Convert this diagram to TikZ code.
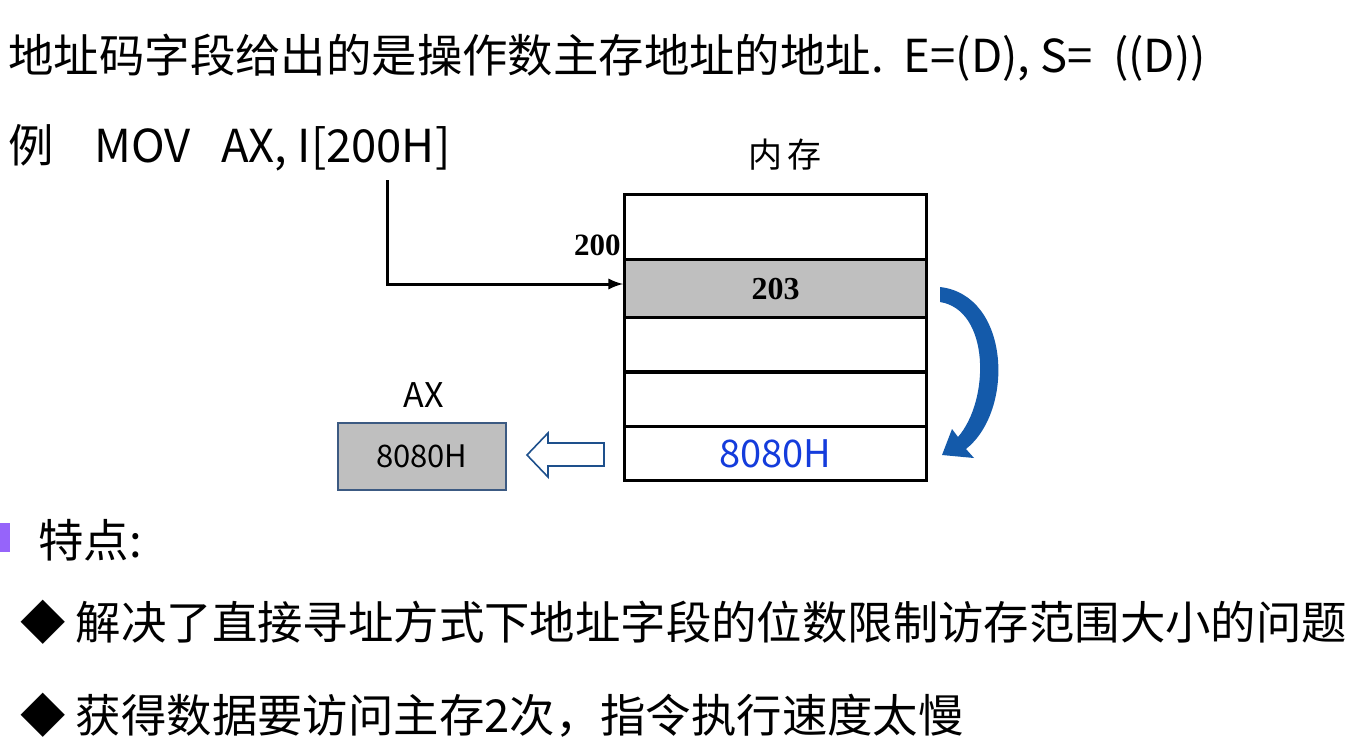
\documentclass[tikz,border=0pt]{standalone}
\usepackage{fontspec}
\setmainfont{Noto Sans CJK SC}
\newfontfamily\serifb{Liberation Serif}
\definecolor{bluetext}{RGB}{20,60,220}
\definecolor{boxedge}{RGB}{60,90,130}
\definecolor{hollow}{RGB}{30,80,140}
\definecolor{curvefill}{RGB}{20,90,170}
\definecolor{purp}{RGB}{150,100,250}
\begin{document}
\begin{tikzpicture}[x=0.5pt,y=-0.5pt,
  big/.style={font=\fontsize{22.7}{26}\selectfont,anchor=west,inner sep=0},
  cell/.style={draw,line width=1.6pt,minimum width=151pt,minimum height=27pt,inner sep=0,anchor=north west}]
\useasboundingbox (0,0) rectangle (1364,751);
\node[big] (title) at (8,58) {地址码字段给出的是操作数主存地址的地址.\ \ E=(D),\ S=\ \ ((D))};
\node[big] (ex) at (8,148) {例\ \ \ \ MOV\ \ \ AX,\ I[200H]};
\node[font=\fontsize{17}{20}\selectfont] (nc) at (785,155) {内\,存};
\node[cell,minimum height=32.5pt] (c1) at (623,193) {};
\node[cell,fill=gray!50,minimum height=29pt] (c2) at (623,258) {};
\node[cell] (c3) at (623,316) {};
\node[cell] (c4) at (623,371) {};
\node[cell] (c5) at (623,425) {};
\node[font=\serifb\bfseries\fontsize{16}{18}\selectfont] (t203) at (c2.center) {203};
\node[font=\fontsize{19}{22}\selectfont,text=bluetext] (t8080) at (c5.center) {8080H};
\node[font=\serifb\bfseries\fontsize{15.5}{18}\selectfont,anchor=south east,inner sep=1pt] (t200) at (c2.north west) {200};
\coordinate (src) at (387,180);
\draw[line width=1.5pt,-latex] (src) |- (c2.west |- 0,284);
\node[draw=boxedge,line width=0.8pt,fill=gray!50,minimum width=84pt,minimum height=33.5pt,inner sep=0,anchor=north west,font=\fontsize{15.5}{18}\selectfont] (ax) at (337,422) {8080H};
\node[font=\fontsize{17}{20}\selectfont] (axl) at (424,395) {AX};
\draw[draw=hollow,line width=0.8pt] (604,443) -- (548,443) -- (548,433) -- (527,455) -- (548,477) -- (548,466) -- (604,466) -- cycle;
\fill[curvefill] (940,287) .. controls (1010,295) and (1015,410) .. (966,449)
  -- (974,458) -- (942,455) -- (952,429) -- (958,437) .. controls (990,400) and (990,310) .. (940,302) -- cycle;
\fill[purp] (0,523) rectangle (10,552);
\node[big] (tz) at (38,540) {特点:};
\node[big] (l1) at (20,622) {◆ 解决了直接寻址方式下地址字段的位数限制访存范围大小的问题};
\node[big] (l2) at (20,715) {◆ 获得数据要访问主存2次，指令执行速度太慢};
\end{tikzpicture}
\end{document}
